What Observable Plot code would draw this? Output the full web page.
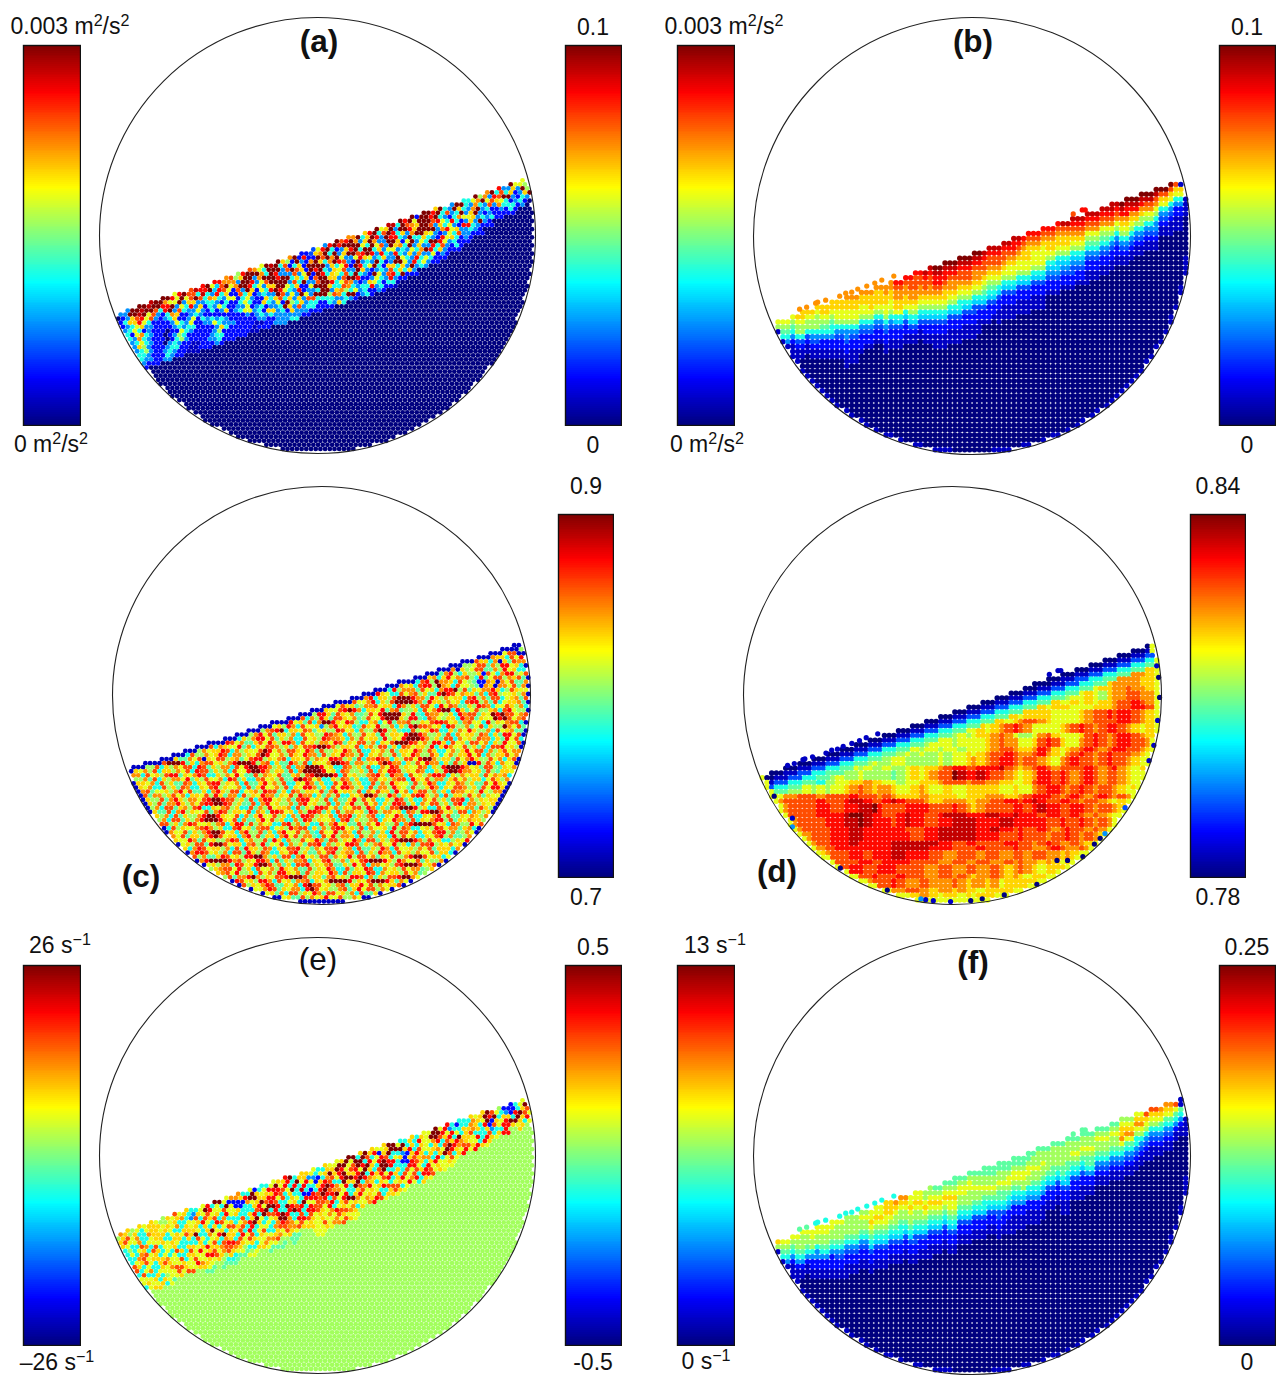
<!DOCTYPE html>
<html><head><meta charset="utf-8">
<script src="https://cdn.jsdelivr.net/npm/d3@7"></script>
<script src="https://cdn.jsdelivr.net/npm/@observablehq/plot@0.6"></script>
<style>
html,body{margin:0;padding:0;background:#fff}
#root{position:relative;width:1287px;height:1376px;overflow:hidden;font-family:"Liberation Sans",Arial,sans-serif;color:#111}
#root svg{position:absolute;background:transparent}
.lab{position:absolute;white-space:nowrap;transform:translateX(-50%);line-height:.9;font-size:23px}
.lab sup{font-size:70%;line-height:0;vertical-align:baseline;position:relative;top:-.5em}
.pan{position:absolute;white-space:nowrap;transform:translateX(-50%);line-height:1;font-size:31.5px}
</style></head><body><div id="root"></div>
<script>
// Levels are hex digits: 0 navy ... f maroon.
// Panel (a): rows below the free surface, one row per 5 units of depth
const rowsA=[
"44ffffefffd9dfcedf9ddbc8dfcb9fefa8bf2239d4dfcdbf6adf9ae6fdf2ffdaf64ff69f8bf6d4f99a6fdaf9dd9a",
"24ffefffdb99f9c6edf5cfb4afffb6ff6c2f4d2abf62dffb4afd6cf4fcb9ffdf6c4fa64bf94dc6a4f86fc4fd4222",
"26acdf9c6df494afc64ddc9bffd4bffd4cf6a2bfcf6f4adf96fb4fd6afdaffcd9426f4bf64ca9f424af694646400",
"246ad9c426b4c6d446ba6a2c4fd69cfdf44ca2ffa6bf94fc6ff9c4fd64bffff4a6d6b9af4624b6246422400000",
"2469a462246a2249a2642492c6a294afff6a49fdf4a6dc49dfd6a4fa29f66a94bd9424a462424262420000",
"462962422249224642649622694246dff94c6a2fd64a9d2f4a94d694b6f49642249a4d64f46222220000",
"2464b6422024649262224a2449622a4fd96a2f4cffa96c4fd64f6a4d6496a4ffd9a6c464222000",
"26469642202294622464222469242a6ac494d29fffda4c6fa49f624f96a4bfd6c94624222000",
"2264a84220248642224964222494624926a4f946ffa69cfd642462a6f94d6496a42622200",
"02246842204684222224a642222462a46f86a4cfff4a6cb4224f94c6a4fd6962422220",
"0022664224664222224682222222446462a4c466668cb86464a964d6f6a46422220",
"0022444226642211224462222221122444444462226446f946d462642222",
"00224222244222112224222222112224446642222224a6424622422100"
];
// Panel (e): same layout as (a)
const rowsE=[
"ba89a9a98a9c9a669d6ff9bb6692669aadf6aa966a99aff6afa99af966a6a9ff9d6266a9afc982269ff9a9ff29a9",
"ac8a69aa989ab64a9fd96f22adfa99df9d6f9a469aafff9ffc6d2afff6a6d9ffd94666ba9fdf6426afc69a6ffaa8",
"ac9b66ba9a9b669c6c9a9c922b9faaadc9fd6d926bfad9cfd6d9dc664ad6a9bdcad96aba6d2a9a6dfcad96dcb988",
"a969b69aa6966a9ad9ac6d9a666afcd9c6a6e66aadc9dfad9fa6ffd9a2adc96a6ca6fac66a4c9dffad9aa96ca888",
"9686cb99a66a9ca96a6dcb6a666cd9fc66a96226dfd66ffdf6d6cfd622aca6ab9cfdba9d66c66da9a69c9a9888",
"86969a6c69a9a6af6afa69a6c6ad6f6d6f9a6ddcffcb9daf6dbad96a66dcab66afda9ca96da9ad88a8888888",
"8666bc9a699a666c96b9a6ca9bdf96cd66dcdf9dcddfb96fcba69cda6c9d96ad69c6ad9da9a88888",
"8669ac9a696ca6a6a69adfa9c6d6a69afd6fd6dccb6c9d6ac9d9a96adc9cad9a99a98888",
"86aca696ab9966c9ad9c6ba6d9d6996bdfb6c6dcc9d6acfbd9a96dc9a9bd6dc9a998",
"8a6669b6aca9c6a9d9aabcdcc9c6ac6bccb9ddc9a9bd9a9a9ba9c6ac69d96a98",
"869a9c6699bc9a9c9ddc9bcba9aa999a9cbbc9a9a9b9ccb6a9bdc9a9a98",
"8866a99a6899ca9db9a9a8a998669bbcb9a98aa99c9b9a9a888",
"886696a96a99a9c9aa9888667789aa99887778899a9bbca988",
"8876699aa6978888877787778899887777878889998888",
];
// Panels (b), (f): depth profiles, one string per 12.5 units along the surface
const profilesB=["986421","98764211","a98863211","a988643211","aa987642211","aa9986432211","baa99864322111","baa998643221","baaa98643221","bbaa9986432211","dcbbaa96532211","dccbba98653211","edccba986532211","feddcba9865322111","fedcbba9865322111","fedccba9865322111","fedcbba9865322111","edccba987653221","edccba9865322111","edcba99865322111","dcbaa99865322111","dcba999865322111","dcbaa986543221","ecbaa986543221","edcba986543221","edcb9876432211","edcb9876432211","edcb986432211","fedba98643211","fedba8643211","fecb98643211","fca9643211","ca96422111"];
const profilesF=["a86421","98764211","988764211","9988642211","99887642211","988876432211","888876432211","898876432211","99a9876532211","aaa9876532211","ba98876532211","99a98876532211","889a9876532211","789a9876532211","789a99876532211","78998876532211","78898876532211","77889876532211","778898776532211","778998765422111","778998865422111","788988765422111","7888876532211","788887765322111","78898765322 11".replace(" ",""),"7889877642211","789887643211","789887643211","89ab97643211","9ab98643211","ca98643211","ba97643211","c9764211"];
// Panel (c): rows of 5.6 units, each counted from the first cell below the surface
const rowsC=[
"",
"a7",
"8b9c1",
"9c6ab27d",
"bd8ca6b1a7c",
"6a9d8b7cc98a1b6",
"9c7bd86a8a2c96bd8",
"ab8c97d68cb9da6ba87c",
"7b9a6cd8fba6c9872ba1b9c",
"c86adb9a7c8fdb6a9c7bb8d69a",
"8b7da96c9bc8a7dfdc9ba7b6cd89a",
"a96c7b8dc6a9b8ad7bdfffc8a6db9c7b",
"6d9ca78bbc9a6db8a7c96d9cb7a8dcb69ca8b",
"b7a89dc6ba8c97ad6fdb9c6a87cb7d9a6bdfdc9a7b8",
"9c6b8da7ca9b78c9dfffa8d76cb98a6dbc7a9fdfc9bc78a6",
"8da76cb9a8d69cb7a9cdc9a88cb7d96ba68cd9adfb6c7a9dc8",
"7c9a8db6c9a48bd9a67ca9d8b6a7dfcb9a6dc8b79c6a8fb9c7d6a8",
"a9bd6c87ba9c6b8ad9b7a6cda98c67a8dfc8b6a9cd8a97bc9a6fdcb8a9c",
"9c6a8bd9c7a8b6c9a8dcba6b8c9a7d8a9dffdb8a7c6b9a8cb6a7d9c6a9b8",
"6ba7c9d8a6b9c7a9c6ad8b9cdffc9a6b8c9a7cd9b8a9c6bd8ad9ca7b9cd8b9",
"9a8c6ba9d7b6a9cb8a7b9cdffdb8a9c6ab8c7a6cb9a8d6adb9c8a7b6cd9a8bc6",
"a7b9ca8b6c9da8b96ac8bd9a7c8b9a6c8bd9a8c7bd9ac8b9dfc9a8b6cda9b8c6a9",
"8c9a7b9c1a9c8ab79cd8a9bc6a9c8ba9dc8a7c6bdcb6a8c9dffb8a7c9bda8c9b6ac9",
"9b6ac8d1a8c7a6bd9c8a6bdfc9a8b7cdffb9a6c8bd7a6cb8dffdb8a9cb6a7dffc9a6b",
"7a9b8c6a8b9c6dc7a8b6c9dffdb8a7c6bfffd9a6cb8a7c6b9dc8a9cb6a8dffdb9a7c8",
"b9c7a9b8a6cdb8a9c6bd7adcb8a9c6dfffdc8ba7c9ab8c79d9b8a6cdb9a7dc8a9c6ba",
"a8b7c6a8b9d7a8c9b6dc7a6bc9a8c7dfdc9b6a8cb7a6bc9a8bc6da9c8b7ac9b8a69c",
"9c7a8bc9a6bda8c79ad8b7c6a8bd9c6a7bd9a6c8b9da7c6b9a8dc9a6bc7a8c6b9ad",
"8bc79a8bd9c7a6bda8c69ab8dc7a6cb8a9c7bd9a8c6b9ca7d9b6ac8b7a6cb9a8d9",
"a7b9c8a7c6b8adc9a7bd8cffb9a6c8b7a6bd8c9a7bd9a8c6b7ad8c9a6b9ca8b7c9",
"9a8c7bda8b9cdffdc8a7c6bd9a8b7cd9a8c6b7ad8c9b6a8dc7a6b9c8a7cd6b8a",
"c7b9a8d9c6a8dfffc7a6bd8c9a7b9cd8a7c6ba9d8b7c6a8cb9a6dc8ba7c6b8a",
"8a7c6bd8a9c7bdc8a9c6ba7dc9a6b8dc7a6c8b9a7dc8b9a6cb8dffc9a7c6ba",
"b9a7c8db9a6c7bd9a6cb8a7dc6b9a8cd7b6a8c9da7b6c9adffdb8a7c6b8a",
"9c8a7bdc9a8bc6ad7c8b9a6cd8b7a6c8bd9a7c8b9da8c6bdfffc9a6cb8d",
"a7b9cd8a96bc8d7a9b6c8a9dc8b7a6cbd8a96cb7a9dc6a8bdcb9a8c6b",
"8b9c7a8bdfc9a6bd8c7a6bd9c8b76c9d8ba6c8b7a6d8c9b6a9cd8b7",
"6a9c8bdffdb8a7c6bd9a8c7bda9c8b6ad7c8ba6cdb8a9c7bd9a8",
"b9a8c7dffc9a6bc8d79c6b8a7cd6b8a9dc7a8bc9d8a6b7cd8a9",
"a7c9b8a9c6bd8a7c6ba8dc9b7a8dc9a6bc8ad7c6b8a9cdb6a",
"9c8b7adc9a8dffb8a7c6bd9a8c7b9ad8c9b7a9c8bdffc9a6",
"8a7c9bd8adffdc9a7b8dc9a6cb8a7c6bd9a8cbdfffdb8",
"c9a8b7dc9adfc8b7a6cd8a9bc7a8d9c6b9a8cdffc9a",
"7b9c8a9b6cd9a7c6bd9a8c7b9ad8b9c6a8d9cba8",
"a8c7bdfb8a9cdfffc8a7bc9a8dc6b7a8cdffb9",
"9b7adffc9a8dfffb9a6cb7a9c6bd8a9cdf",
"c8a9bdc7a9b6dfc9a8bc7ad9c8b9a",
"a7c6b8a9c7bd9a8c6b7a9d8",
"8b9a7c8b9ad9c8"
];
// Panel (d): picture rows, 7 units per cell, each "first column:levels"
const rowsD=[
"0:","0:",
"58:9aa9",
"56:889aaa9",
"53:889aabbaa9",
"50:88899abbbba9",
"47:888999aabbbbaa9",
"44:8889899a9aabbcbba9",
"41:8898989899a98abbccbbaa9",
"38:88989899a99a9a9aabccdcba9",
"35:88989988aa9aaa999aaabccddcba9",
"33:898999aa9aaaa9999abccdcddcba9",
"30:8989899aa9abccba9999abccccddcba9",
"26:898989899a9abcdcb9999abcdcbcddcba9",
"23:898899898989aabcb9889bca999acdcbcddcba",
"20:8898989899989999abcbb99acdca99bcdcbcddccba",
"20:8989898998998999abccbaabdca9abcdcbcddccba",
"13:89899889898989889899a9abccdcbbcdba9bcdcbcdcccba9",
"9:889896889898899888889899ababcddcbccba9bcdccbcdccba9",
"7:898689868989889889a9aabcddccdddecbabcdcbccccdcbcdba9",
"5:86898896898898888789a9abccfeddedccba9abddcdcbcdcbccba9",
"3:8688988968899aabaa99899aaabcccbccbbaa99acddcdcbcdcbccba9",
"2:8688988989899abcbabba99aba99a99aaaaa99a99bcddcbcdcbccba9",
"3:899bbcccbccccdcccbcbaaabbaaaa9aaabbbaabcdddcbcdcbcdcbcba9",
"4:9bcccccdcccdeedccdedcccbaabbbaabbccddcdedccddcbccba9",
"5:9bccccddccddeefdcccddddcccdcbabccccddcdeddccddcbccba9",
"6:bccccddddeffeddccdeddccdeeedddeeddedddcddccdcbcba9",
"7:bccccdddeefedddcdeddccddeeeedddeedddddccdccdcbcba9",
"8:bccccdddeeddddddcccddeeeeeeddeddcdccdcbcdccbcba9",
"9:bcccdddeedddddddccddeeeeeedddcccdcccbccdcbcba9",
"10:bccdddedddddeeeeeeeddccddccccddccbcdcbbcba9",
"10:abccddddddddeeeeeedddccccdccccdccbbcdcbbcba9",
"11:abcccddcdddeeddddccbbcccbccbbccbccbbaba9",
"12:abcccddccddddccccbbccbbccbbcbcbbaba9",
"13:bccddccdddccccbbccbbccbbcbabcba9",
"15:abccdcccdcccbbccbcbabbcbaba9",
"17:abcccdcbbccbbbcbabbab9",
"21:abbccbbabbabaa9",
"25:abba9aa9a9"
];
// Layers directly under the surface, from the top (5 units each)
const topLayersC="1";
const topLayersD="01367";
// Shared droplets above the surface in (b), (d), (f)
const dropX=[-172,-165,-156,-154,-146,-132,-126,-120,-114,-105,-97,-90,-78,101,110,113];
const dropY=[73,71,67,66,64,60,57,56,53,50,47,44,40,-22,-26,-26];
const dropLevelsB="bbbbbbbbbbbbbcdd";
const dropLevelsD="1111111111111111";
const dropLevelsF="7766666666666777";
// Rim dots of (d)
const rimX=[213,215,216,214,210,205,180,159,154,148,136,120,109,88,54,31,19,-2,-20,-28,-33,-68,-117,-167,-167,-186];
const rimY=[-31,-19,2,26,52,68,117,144,149,155,168,172,172,197,208,212,214,215,214,213,212,203,180,137,128,105];
const rimLevels="10011134000000000111400410";
// Surface ends, x then y (disc radius = 218 units)
const surfaces={a:[-199,77,210,-57],b:[-195,85,206,-55],c:[-198,75,213,-57],d:[-195,83,212,-55],e:[-199,77,210,-58],f:[-195,85,206,-57]};
// Colour bar ranges
const rangeA=[0,0.003], rangeA2=[0,0.1], rangeC=[0.7,0.9], rangeD=[0.78,0.84], rangeE=[-26,26], rangeE2=[-0.5,0.5], rangeF=[0,13], rangeF2=[0,0.25];
const jetStops=[0,.125,.375,.625,.875,1];
const jetColors=["#00007f","#0000ff","#00ffff","#ffff00","#ff0000","#7f0000"];
// Labels
const panelLabels=[["(a)",319,26,"bold"],["(b)",973,26,"bold"],["(c)",141,861,"bold"],["(d)",777,856,"bold"],["(e)",318,944,"normal"],["(f)",973,947,"bold"]];
const barLabels=[
["0.003 m<sup>2</sup>/s<sup>2</sup>",70,15],["0 m<sup>2</sup>/s<sup>2</sup>",51,433],["0.1",593,16],["0",593,434],
["0.003 m<sup>2</sup>/s<sup>2</sup>",724,15],["0 m<sup>2</sup>/s<sup>2</sup>",707,433],["0.1",1247,16],["0",1247,434],
["0.9",586,475],["0.7",586,886],["0.84",1218,475],["0.78",1218,886],
["26 s<sup>−1</sup>",60,934],["–26 s<sup>−1</sup>",57,1351],["0.5",593,936],["-0.5",593,1351],
["13 s<sup>−1</sup>",715,934],["0 s<sup>−1</sup>",706,1350],["0.25",1247,936],["0",1247,1351]
];

const root=document.getElementById("root");
const R=218;
const toRows=p=>d3.range(d3.max(p,s=>s.length)).map(r=>p.map(s=>s[r]||"0").join(""));
const colorOf=([lo,hi])=>({type:"linear",domain:jetStops.map(t=>lo+t*(hi-lo)),range:jetColors,clamp:true});
const val=(ch,[lo,hi])=>lo+parseInt(ch,16)/15*(hi-lo);
const parsedD=rowsD.map(s=>{const [c,t]=s.split(":");return "8".repeat(+c)+t;});

function lattice(p){
  const out=[],[x0,y0,x1,y1]=p.surface;
  const slope=(y1-y0)/(x1-x0);
  const s=p.step,dy=p.hex?s*0.866:s;
  let row=0;
  for(let y=-R;y<=R;y+=dy,row++){
    const off=p.hex&&row%2?s/2:0;
    for(let x=-R+off;x<=R;x+=s){
      const rad=Math.hypot(x,y);
      if(rad>R-1.5)continue;
      const depth=y-(y0+slope*(x-x0));
      if(depth<0)continue;
      let ch;
      const tl=p.top&&p.top[Math.floor(depth/5)];
      if(p.rim&&R-rad<p.rimWidth)ch=p.rim;
      else if(tl)ch=tl;
      else if(p.relative){
        const r=Math.floor((y+60)/p.cell),yc=-60+p.cell*(r+.5);
        const first=Math.max(-Math.sqrt(Math.max(0,R*R-yc*yc)),x0+(yc-y0)/slope);
        const rw=p.rows[r];
        if(rw&&rw.length){
          const i=Math.max(0,Math.floor((x-first)/p.cell))%rw.length;
          ch=rw[r%2?rw.length-1-i:i];
        }
      }else if(p.image){
        const rw=p.rows[Math.floor((y+60)/p.cell)];
        ch=rw&&rw[Math.floor((x+218)/p.cell)];
      }else{
        const rw=p.rows[Math.floor(depth/5)];
        ch=rw&&rw[Math.floor((x-p.xStart)/p.dc)];
      }
      if(!ch)ch=p.base;
      out.push({x,y,value:val(ch,p.range)});
    }
  }
  return out;
}
const extras=(xs,ys,ls,range)=>xs.map((x,i)=>({x,y:ys[i],value:val(ls[i]||"1",range)}));

function disc(cx,cy,r,cfg){
  const pts=lattice(cfg);
  const extra=cfg.extra||[];
  const m=3;
  const svg=Plot.plot({
    width:2*r+2*m,height:2*r+2*m,margin:m,
    x:{domain:[-R,R],axis:null},y:{domain:[R,-R],axis:null},
    color:colorOf(cfg.range),
    style:{background:"transparent"},
    marks:[
      Plot.dot(pts,{x:"x",y:"y",fill:"value",r:cfg.r}),
      Plot.dot(extra,{x:"x",y:"y",fill:"value",r:cfg.r*0.95}),
      Plot.dot([{x:0,y:0}],{x:"x",y:"y",r:r,stroke:"#222",strokeWidth:1.1,fill:"none"})
    ]
  });
  svg.style.left=(cx-r-m)+"px";svg.style.top=(cy-r-m)+"px";
  root.appendChild(svg);
}
function bar(x0,x1,y0,y1,range){
  const [lo,hi]=range,n=200;
  const steps=d3.range(n).map(i=>({a:lo+i/n*(hi-lo),b:lo+(i+1)/n*(hi-lo),v:lo+(i+.5)/n*(hi-lo)}));
  const m=1;
  const svg=Plot.plot({
    width:x1-x0+2*m,height:y1-y0+2*m,margin:m,
    x:{domain:[0,1],axis:null},y:{domain:[lo,hi],axis:null},
    color:colorOf(range),
    style:{background:"transparent"},
    marks:[
      Plot.rect(steps,{x1:()=>0,x2:()=>1,y1:"a",y2:"b",fill:"v",shapeRendering:"crispEdges"}),
      Plot.frame({stroke:"#111",strokeWidth:1.4})
    ]
  });
  svg.style.left=(x0-m-.5)+"px";svg.style.top=(y0-m-.5)+"px";
  root.appendChild(svg);
}

disc(317,235,218,{surface:surfaces.a,rows:rowsA,xStart:-199,dc:5,base:"0",range:rangeA,step:4.7,hex:true,r:2.4});
disc(971.5,235,218.5,{surface:surfaces.b,rows:toRows(profilesB),xStart:-201.25,dc:12.5,base:"0",range:rangeA,step:4.9,r:2.75,rim:"1",rimWidth:4,extra:extras(dropX,dropY,dropLevelsB,rangeA)});
disc(321,695,209,{surface:surfaces.c,rows:rowsC,relative:true,cell:5.6,base:"9",range:rangeC,step:4.9,hex:true,r:2.4,rim:"1",rimWidth:3.5,top:topLayersC});
disc(952,695,209,{surface:surfaces.d,rows:parsedD,image:true,cell:7,base:"a",range:rangeD,step:4.9,r:2.75,rim:"9",rimWidth:5,top:topLayersD,
  extra:extras(dropX,dropY,dropLevelsD,rangeD).concat(extras(rimX,rimY,rimLevels,rangeD))});
disc(317,1155,218,{surface:surfaces.e,rows:rowsE,xStart:-199,dc:5,base:"8",range:rangeE,step:4.7,hex:true,r:2.4});
disc(971.5,1155,218.5,{surface:surfaces.f,rows:toRows(profilesF),xStart:-201.25,dc:12.5,base:"0",range:rangeF,step:4.9,r:2.75,rim:"1",rimWidth:4,extra:extras(dropX,dropY,dropLevelsF,rangeF)});

bar(23,80,45,425,rangeA);bar(565,621,45,425,rangeA2);
bar(677,734,45,425,rangeA);bar(1219,1275,45,425,rangeA2);
bar(558,613,514,877,rangeC);bar(1190,1245,514,877,rangeD);
bar(23,80,965,1345,rangeE);bar(565,621,965,1345,rangeE2);
bar(677,734,965,1345,rangeF);bar(1219,1275,965,1345,rangeF2);

for(const [t,x,y] of barLabels){const d=document.createElement("div");d.className="lab";d.innerHTML=t;d.style.left=x+"px";d.style.top=(y+1)+"px";root.appendChild(d);}
for(const [t,x,y,w] of panelLabels){const d=document.createElement("div");d.className="pan";d.textContent=t;d.style.left=x+"px";d.style.top=y+"px";d.style.fontWeight=w;root.appendChild(d);}
</script></body></html>
